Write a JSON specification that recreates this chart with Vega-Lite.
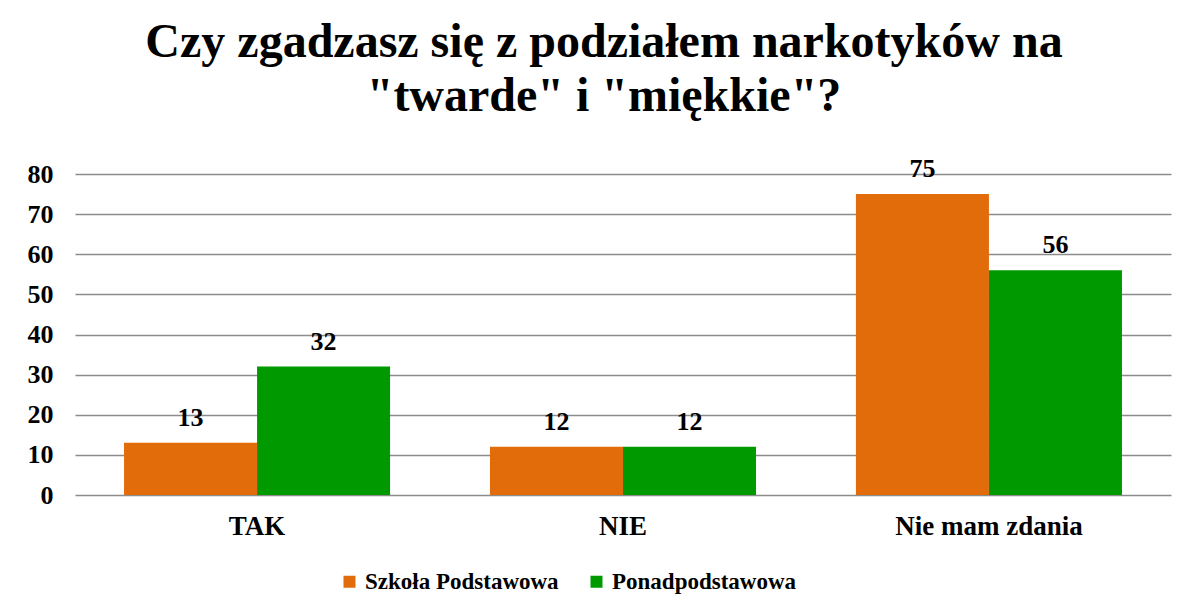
{
  "$schema": "https://vega.github.io/schema/vega-lite/v6.json",
  "autosize": {"type": "none"},
  "width": 1096,
  "height": 321,
  "padding": {"left": 75, "top": 174, "right": 16, "bottom": 117},
  "background": "white",
  "title": {
    "text": ["Czy zgadzasz się z podziałem narkotyków na", "\"twarde\" i \"miękkie\"?"],
    "font": "'Liberation Serif', 'Times New Roman', serif",
    "fontSize": 48,
    "fontWeight": "bold",
    "color": "black",
    "lineHeight": 54,
    "anchor": "middle",
    "offset": 35,
    "dx": -19,
    "limit": 0
  },
  "data": {
    "values": [
      {"odpowiedz": "TAK", "szkola": "Szkoła Podstawowa", "wartosc": 13},
      {"odpowiedz": "TAK", "szkola": "Ponadpodstawowa", "wartosc": 32},
      {"odpowiedz": "NIE", "szkola": "Szkoła Podstawowa", "wartosc": 12},
      {"odpowiedz": "NIE", "szkola": "Ponadpodstawowa", "wartosc": 12},
      {"odpowiedz": "Nie mam zdania", "szkola": "Szkoła Podstawowa", "wartosc": 75},
      {"odpowiedz": "Nie mam zdania", "szkola": "Ponadpodstawowa", "wartosc": 56}
    ]
  },
  "encoding": {
    "x": {
      "field": "odpowiedz",
      "type": "nominal",
      "sort": ["TAK", "NIE", "Nie mam zdania"],
      "scale": {"paddingInner": 0.273, "paddingOuter": 0.134},
      "axis": {
        "title": null,
        "labelAngle": 0,
        "labelFont": "'Liberation Serif', 'Times New Roman', serif",
        "labelFontSize": 27,
        "labelFontWeight": "bold",
        "labelColor": "black",
        "labelPadding": 18,
        "labelLimit": 0,
        "ticks": false,
        "domain": false
      }
    },
    "xOffset": {
      "field": "szkola",
      "type": "nominal",
      "sort": ["Szkoła Podstawowa", "Ponadpodstawowa"],
      "scale": {"paddingInner": 0, "paddingOuter": 0}
    },
    "y": {
      "field": "wartosc",
      "type": "quantitative",
      "scale": {"domain": [0, 80], "nice": false},
      "axis": {
        "title": null,
        "values": [0, 10, 20, 30, 40, 50, 60, 70, 80],
        "labelFont": "'Liberation Serif', 'Times New Roman', serif",
        "labelFontSize": 26,
        "labelFontWeight": "bold",
        "labelColor": "black",
        "labelPadding": 22,
        "ticks": false,
        "domain": false,
        "grid": true,
        "gridColor": "#8c8c8c",
        "gridWidth": 1.5
      }
    }
  },
  "layer": [
    {
      "mark": {"type": "bar"},
      "encoding": {
        "color": {
          "field": "szkola",
          "type": "nominal",
          "sort": ["Szkoła Podstawowa", "Ponadpodstawowa"],
          "scale": {"domain": ["Szkoła Podstawowa", "Ponadpodstawowa"], "range": ["#E36C0A", "#009900"]},
          "legend": {
            "title": null,
            "orient": "none",
            "direction": "horizontal",
            "legendX": 263,
            "legendY": 396,
            "symbolType": "square",
            "symbolSize": 144,
            "symbolStrokeWidth": 0,
            "labelFont": "'Liberation Serif', 'Times New Roman', serif",
            "labelFontSize": 23,
            "labelFontWeight": "bold",
            "labelColor": "black",
            "labelOffset": 4,
            "labelLimit": 0,
            "columnPadding": 26
          }
        }
      }
    },
    {
      "mark": {
        "type": "text",
        "dy": -17,
        "baseline": "alphabetic",
        "font": "'Liberation Serif', 'Times New Roman', serif",
        "fontSize": 26,
        "fontWeight": "bold",
        "color": "black"
      },
      "encoding": {
        "text": {"field": "wartosc", "type": "quantitative"}
      }
    }
  ],
  "config": {
    "view": {"stroke": null}
  }
}
